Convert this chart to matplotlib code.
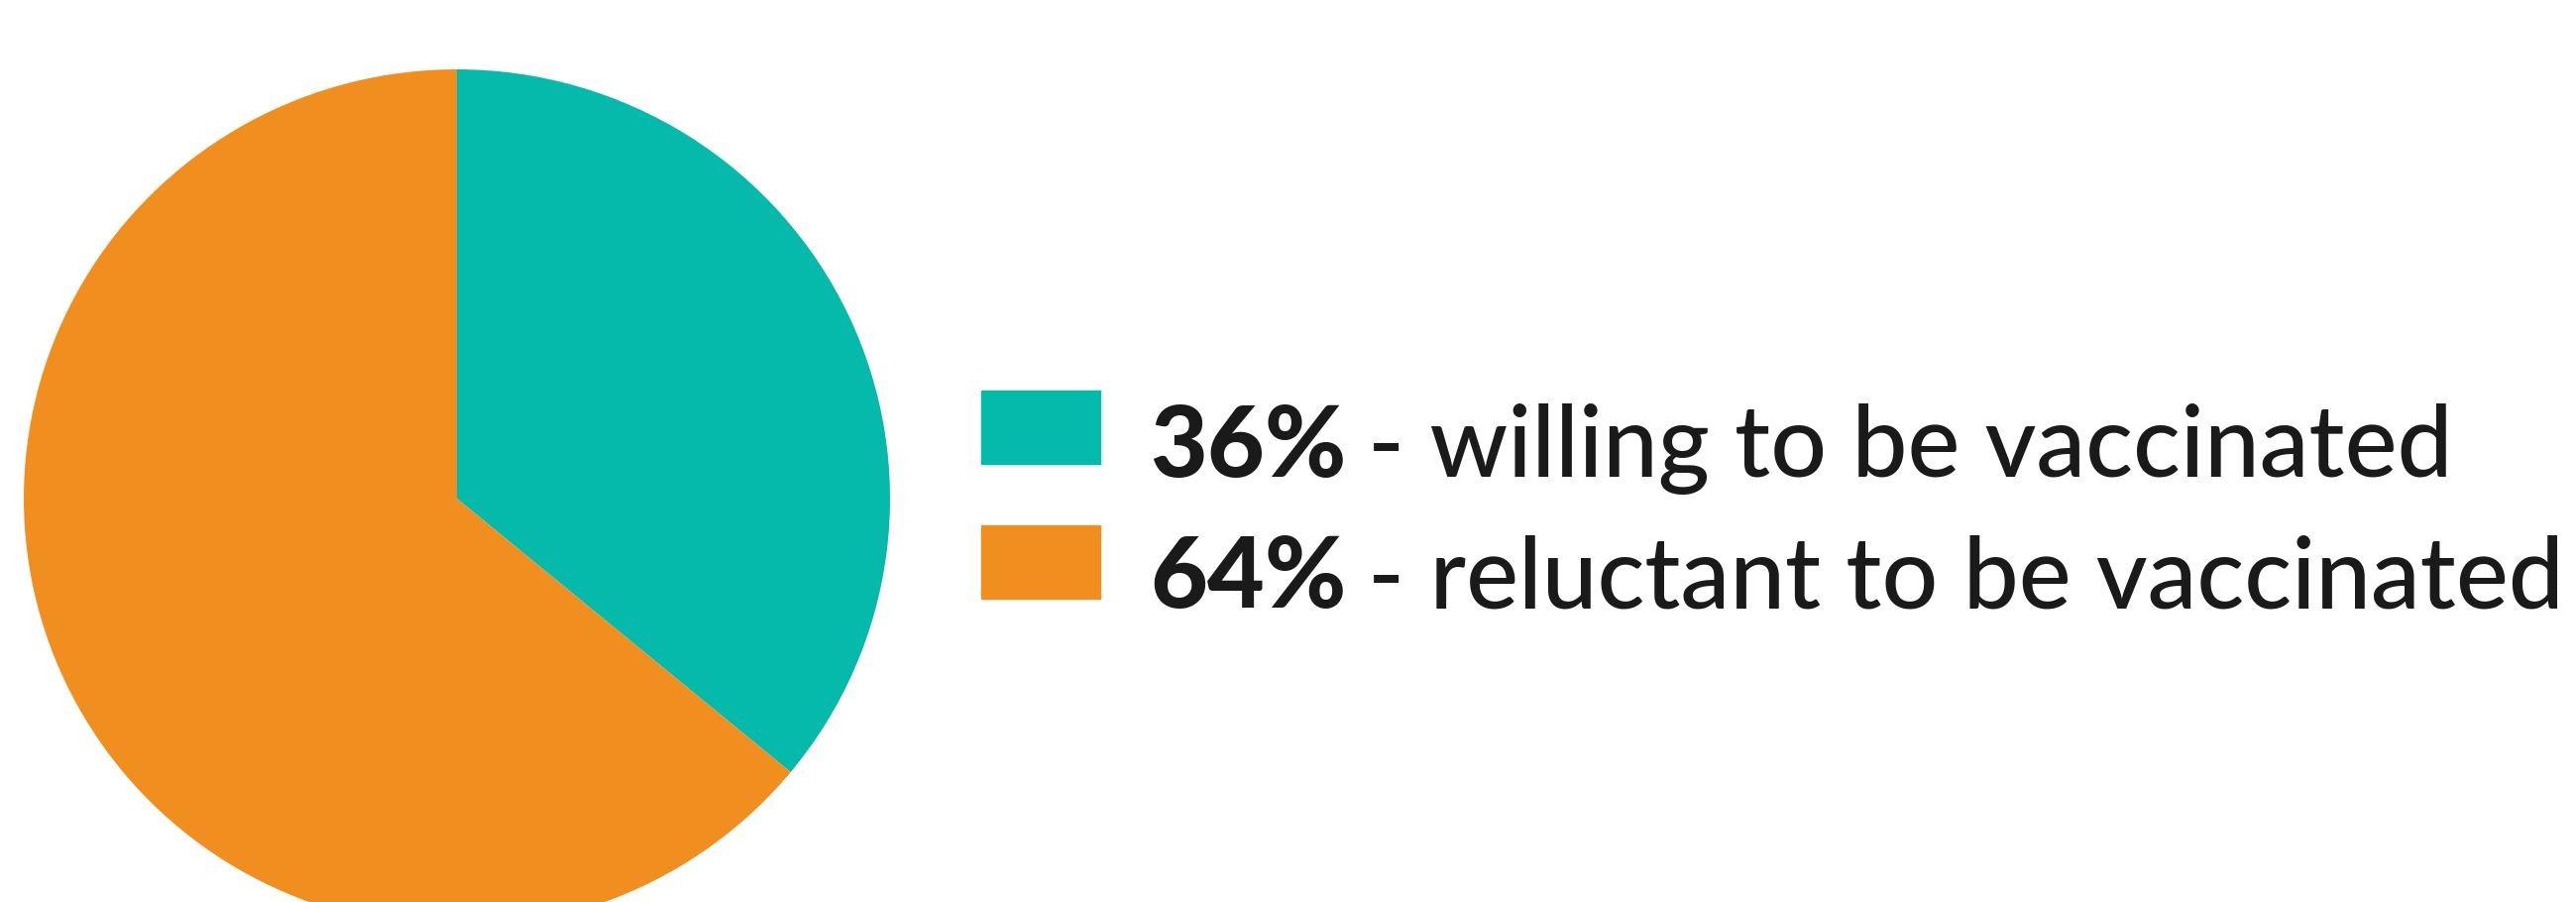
import matplotlib.pyplot as plt

# data
shares = [36, 64]
pcts = ['36%', '64%']
labels = ['- willing to be vaccinated', '- reluctant to be vaccinated']
colors = ['#05baaa', '#f08e1f']

W, H = 2599, 910
fig = plt.figure(figsize=(W / 100, H / 100), dpi=100)

# pie axes, placed in pixel terms (bottom runs off the canvas)
cx, cy, rx, ry = 461, 503, 437, 433
ax = fig.add_axes([(cx - rx) / W, (H - cy - ry) / H, 2 * rx / W, 2 * ry / H])
ax.pie(shares, colors=colors, startangle=90, counterclock=False, radius=1,
       wedgeprops=dict(linewidth=0))
ax.set_aspect('auto')
ax.set_xlim(-1, 1)
ax.set_ylim(-1, 1)
ax.axis('off')

fam = 'Lato'
size = 80

# legend squares + text
sq_x, sq_w = 990, 120
sq_tops = [394, 530]
sq_h = 74
baselines = [481, 613]
txt_x = 1160
right_edge = 2586  # end of the longer line in the reference
gap = 22

fig.canvas.draw()
r = fig.canvas.get_renderer()

# fit the font size to the width of the longer line
t1 = fig.text(0, 0, pcts[1], fontsize=size, fontweight='black', family=fam)
t2 = fig.text(0, 0, labels[1], fontsize=size, fontweight='medium', family=fam)
w = t1.get_window_extent(r).width + gap + t2.get_window_extent(r).width
t1.remove()
t2.remove()
size = size * (right_edge - txt_x - gap) / (w - gap)

for i in range(len(shares)):
    fig.patches.append(plt.Rectangle((sq_x / W, (H - sq_tops[i] - sq_h) / H),
                                     sq_w / W, sq_h / H, color=colors[i],
                                     transform=fig.transFigure, figure=fig))
    t1 = fig.text(txt_x / W, (H - baselines[i]) / H, pcts[i], fontsize=size,
                  fontweight='black', family=fam, color='#1a1a1a', va='baseline')
    bb = t1.get_window_extent(r)
    fig.text((bb.x1 + gap) / W, (H - baselines[i]) / H, labels[i], fontsize=size,
             fontweight='medium', family=fam, color='#1a1a1a', va='baseline')

fig.savefig('out.png', dpi=100)
